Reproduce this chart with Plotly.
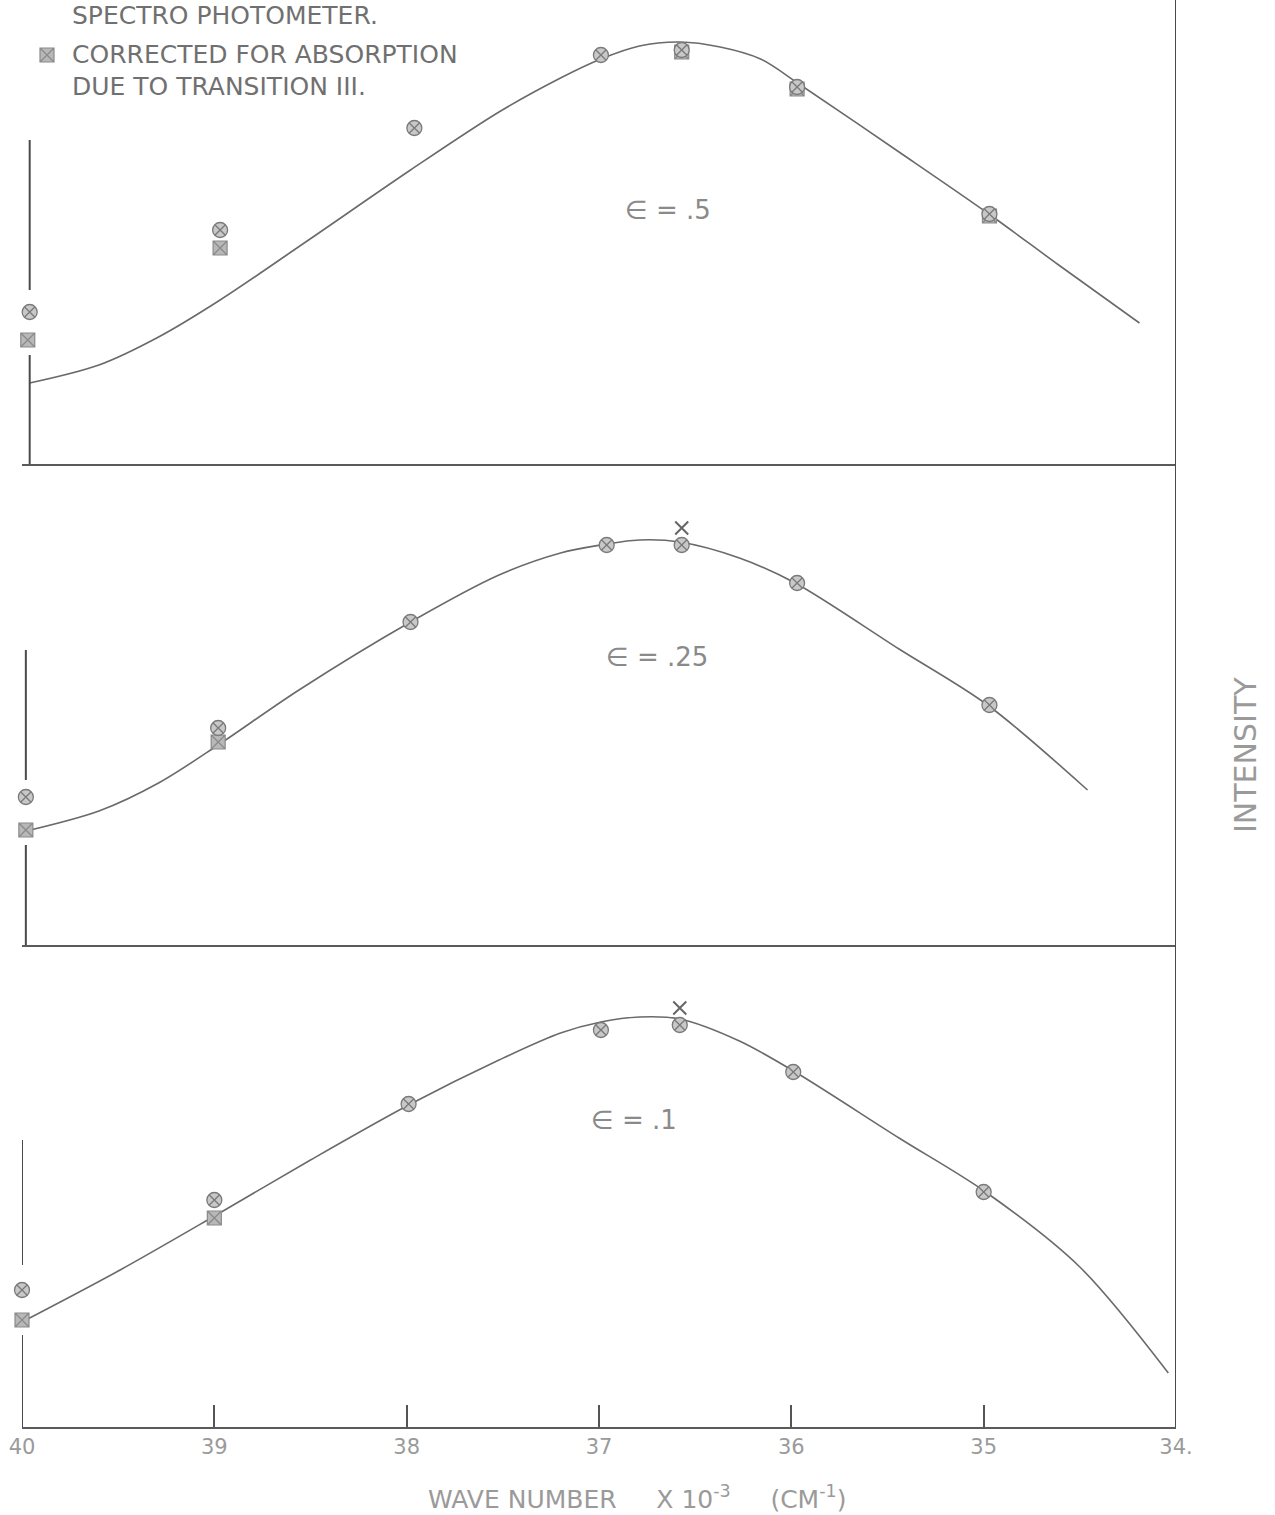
import plotly.graph_objects as go

# ---------------- data ----------------
x_ticks = [40, 39, 38, 37, 36, 35, 34]
x_tick_labels = ["40", "39", "38", "37", "36", "35", "34."]

# epsilon = .5 (top panel)
top_curve_x = [39.96, 39.60, 39.29, 38.97, 38.51, 37.98, 37.52, 37.20, 36.99, 36.79, 36.58, 36.37, 36.16, 35.96, 35.44, 34.98, 34.61, 34.19]
top_curve_y = [0.81, 0.99, 1.27, 1.64, 2.24, 2.94, 3.52, 3.86, 4.05, 4.18, 4.22, 4.17, 4.05, 3.80, 3.12, 2.51, 1.99, 1.41]
top_circ_x = [39.96, 38.97, 37.96, 36.99, 36.57, 35.97, 34.97]
top_circ_y = [1.52, 2.34, 3.36, 4.09, 4.14, 3.77, 2.50]
top_sq_x = [39.97, 38.97, 36.57, 35.97, 34.97]
top_sq_y = [1.24, 2.16, 4.12, 3.75, 2.48]

# epsilon = .25 (middle panel)
mid_curve_x = [40.0, 39.60, 39.29, 38.98, 38.56, 37.98, 37.52, 37.20, 36.99, 36.79, 36.58, 36.27, 35.98, 35.44, 34.98, 34.46]
mid_curve_y = [1.13, 1.34, 1.62, 2.00, 2.55, 3.23, 3.70, 3.92, 4.00, 4.05, 4.03, 3.87, 3.62, 2.96, 2.40, 1.55]
mid_circ_x = [39.98, 38.98, 37.98, 36.96, 36.57, 35.97, 34.97]
mid_circ_y = [1.48, 2.17, 3.23, 4.00, 4.00, 3.62, 2.40]
mid_sq_x = [39.98, 38.98]
mid_sq_y = [1.15, 2.03]
mid_x_x = [36.57]
mid_x_y = [4.17]

# epsilon = .1 (bottom panel)
bot_curve_x = [40.0, 39.49, 38.99, 38.50, 37.98, 37.52, 37.20, 36.99, 36.79, 36.58, 36.27, 35.98, 35.44, 34.99, 34.50, 34.04]
bot_curve_y = [1.05, 1.57, 2.12, 2.67, 3.23, 3.67, 3.94, 4.05, 4.10, 4.08, 3.86, 3.55, 2.89, 2.35, 1.60, 0.54]
bot_circ_x = [40.0, 39.0, 37.99, 36.99, 36.58, 35.99, 35.0]
bot_circ_y = [1.37, 2.27, 3.23, 3.97, 4.02, 3.55, 2.35]
bot_sq_x = [40.0, 39.0]
bot_sq_y = [1.07, 2.09]
bot_x_x = [36.58]
bot_x_y = [4.19]

legend_key_x = [39.87]
legend_key_y = [4.09]

# ---------------- styles ----------------
CURVE = dict(color="#6a6a6a", width=1.6, shape="spline", smoothing=0.9)
CIRC = dict(symbol="circle-x", size=15, color="#c8c8c8", line=dict(color="#7a7a7a", width=1.3))
SQ = dict(symbol="square-x", size=14, color="#b8b8b8", line=dict(color="#8a8a8a", width=1.2))
XM = dict(symbol="x-thin", size=13, line=dict(color="#666666", width=2))

fig = go.Figure()

def add_panel(cx, cy, ox, oy, sx, sy, xa, ya, xx=None, xy=None):
    fig.add_trace(go.Scatter(x=cx, y=cy, mode="lines", line=CURVE, xaxis=xa, yaxis=ya,
                             hoverinfo="skip", cliponaxis=False))
    fig.add_trace(go.Scatter(x=sx, y=sy, mode="markers", marker=SQ, xaxis=xa, yaxis=ya, cliponaxis=False))
    fig.add_trace(go.Scatter(x=ox, y=oy, mode="markers", marker=CIRC, xaxis=xa, yaxis=ya, cliponaxis=False))
    if xx:
        fig.add_trace(go.Scatter(x=xx, y=xy, mode="markers", marker=XM, xaxis=xa, yaxis=ya, cliponaxis=False))

add_panel(bot_curve_x, bot_curve_y, bot_circ_x, bot_circ_y, bot_sq_x, bot_sq_y, "x", "y", bot_x_x, bot_x_y)
add_panel(mid_curve_x, mid_curve_y, mid_circ_x, mid_circ_y, mid_sq_x, mid_sq_y, "x2", "y2", mid_x_x, mid_x_y)
add_panel(top_curve_x, top_curve_y, top_circ_x, top_circ_y, top_sq_x, top_sq_y, "x3", "y3")
fig.add_trace(go.Scatter(x=legend_key_x, y=legend_key_y, mode="markers", marker=SQ,
                         xaxis="x3", yaxis="y3", cliponaxis=False))

H_PLOT = 1427.0
W_PLOT = 1154.0
d1 = (1427 - 945) / H_PLOT
d2 = (1427 - 464) / H_PLOT

xcommon = dict(range=[40, 34], showgrid=False, zeroline=False, showline=True,
               linecolor="#5a5a5a", linewidth=1.6)
ycommon = dict(showgrid=False, zeroline=False, showline=False, showticklabels=False, ticks="")

fig.update_layout(
    width=1275, height=1515,
    margin=dict(l=22, r=99, t=0, b=88),
    paper_bgcolor="white", plot_bgcolor="white",
    showlegend=False,
    xaxis=dict(**xcommon, anchor="y", tickmode="array", tickvals=x_ticks, ticktext=x_tick_labels,
               ticks="inside", ticklen=22, tickwidth=1.5, tickcolor="#555",
               tickfont=dict(family="DejaVu Sans", size=21, color="#9a9a9a")),
    xaxis2=dict(**xcommon, anchor="y2", matches="x", showticklabels=False, ticks=""),
    xaxis3=dict(**xcommon, anchor="y3", matches="x", showticklabels=False, ticks=""),
    yaxis=dict(**ycommon, domain=[0, d1], range=[0, 4.82]),
    yaxis2=dict(**ycommon, domain=[d1, d2], range=[0, 4.81]),
    yaxis3=dict(**ycommon, domain=[d2, 1], range=[0, 4.64]),
)

# frame lines (partial left verticals, right vertical)
LC = dict(color="#4a4a4a", width=2)
segs = [("y3", 39.96, 3.24, 1.74), ("y3", 39.96, 1.09, 0.0),
        ("y2", 39.98, 2.95, 1.65), ("y2", 39.98, 1.00, 0.0),
        ("y", 40.0, 2.87, 1.62), ("y", 40.0, 0.92, 0.0)]
for yr, xv, y0, y1 in segs:
    fig.add_shape(type="line", xref="x", yref=yr, x0=xv, x1=xv, y0=y0, y1=y1, line=LC)
fig.add_shape(type="line", xref="x", yref="paper", x0=34, x1=34, y0=0, y1=1, line=LC)

TXT = dict(family="DejaVu Sans", color="#8a8a8a")
labels = [("x3", "y3", 36.64, 2.54, "∈ = .5"),
          ("x2", "y2", 36.70, 2.88, "∈ = .25"),
          ("x", "y", 36.82, 3.07, "∈ = .1")]
for xr, yr, xv, yv, t in labels:
    fig.add_annotation(xref=xr, yref=yr, x=xv, y=yv, text=t, showarrow=False,
                       font=dict(**TXT, size=26))

legend_lines = [(15, "SPECTRO PHOTOMETER."), (55, "CORRECTED FOR ABSORPTION"), (87, "DUE TO TRANSITION III.")]
for ypx, t in legend_lines:
    fig.add_annotation(xref="paper", yref="paper", x=(70 - 22) / W_PLOT, y=1 - ypx / H_PLOT,
                       xanchor="left", yanchor="middle", text=t, showarrow=False,
                       font=dict(family="DejaVu Sans", size=25, color="#707070"))

fig.add_annotation(xref="paper", yref="paper", x=(637 - 22) / W_PLOT, y=-(1497 - 1427) / H_PLOT,
                   xanchor="center", yanchor="middle", showarrow=False,
                   text="WAVE NUMBER&nbsp;&nbsp;&nbsp;&nbsp;&nbsp;X 10<sup>-3</sup>&nbsp;&nbsp;&nbsp;&nbsp;&nbsp;(CM<sup>-1</sup>)",
                   font=dict(family="DejaVu Sans", size=25, color="#9a9a9a"))

fig.add_annotation(xref="paper", yref="paper", x=(1245 - 22) / W_PLOT, y=1 - 755 / H_PLOT,
                   xanchor="center", yanchor="middle", showarrow=False, textangle=-90,
                   text="INTENSITY", font=dict(family="DejaVu Sans", size=30, color="#9a9a9a"))

fig.write_html("out.html")
